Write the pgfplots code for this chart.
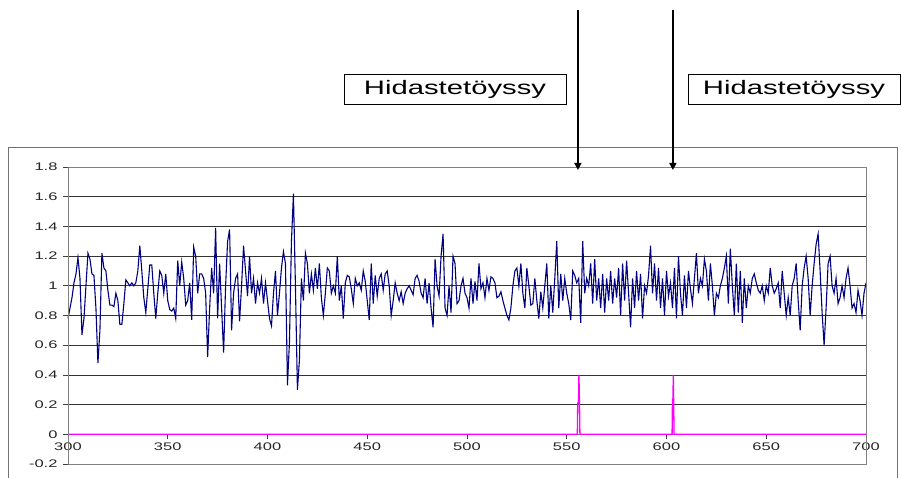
\documentclass[border=0pt]{standalone}
\usepackage{fontspec}
\setmainfont{Liberation Sans}[FakeStretch=1.5]
\usepackage{pgfplots}
\pgfplotsset{compat=1.18}
\usetikzlibrary{arrows.meta}
\definecolor{seriesnavy}{RGB}{0,0,128}
\definecolor{seriesmag}{RGB}{255,0,255}
\begin{document}
\begin{tikzpicture}[x=1pt,y=1pt]
\useasboundingbox (0,0) rectangle (902,477);
% chart frame (continues below the page edge)
\draw[black!55, line width=1pt] (8,-20) -- (8,329) -- (897,329) -- (897,-20);
\begin{axis}[
  at={(68pt,13pt)}, anchor=south west,
  scale only axis, width=798pt, height=297pt,
  xmin=300, xmax=700, ymin=-0.2, ymax=1.8,
  axis x line=middle, axis y line=left,
  axis line style={-, black!55, line width=0.8pt},
  hide obscured x ticks=false, hide obscured y ticks=false,
  xtick={300,350,400,450,500,550,600,650,700},
  xticklabels={300,350,400,450,500,550,600,650,700},
  ytick={-0.2,0,0.2,0.4,0.6,0.8,1,1.2,1.4,1.6,1.8},
  yticklabels={-0.2,0,0.2,0.4,0.6,0.8,1,1.2,1.4,1.6,1.8},
  tick align=outside, major tick length=5pt,
  tick style={black!75, line width=0.8pt},
  ymajorgrids, grid style={black!80, line width=0.8pt},
  /pgf/number format/assume math mode=true,
  ticklabel style={font=\fontsize{11}{13}\selectfont, text=black!85},
  yticklabel style={xshift=-2pt},
  clip=false,
]
% signal
\addplot[seriesnavy, line width=1.1pt] coordinates {
(300,0.78) (301,0.85) (302,0.92) (303,1.02) (304,1.08) (305,1.19) (306,1.05) (307,0.67) (308,0.78) (309,1.0)
(310,1.22) (311,1.18) (312,1.08) (313,1.07) (314,0.85) (315,0.48) (316,0.7) (317,1.22) (318,1.12) (319,1.1)
(320,0.97) (321,0.87) (322,0.87) (323,0.86) (324,0.95) (325,0.9) (326,0.74) (327,0.74) (328,0.88) (329,1.04)
(330,1.02) (331,1.0) (332,1.02) (333,1.0) (334,1.02) (335,1.1) (336,1.27) (337,1.1) (338,0.92) (339,0.82)
(340,0.98) (341,1.14) (342,1.14) (343,0.95) (344,0.78) (345,0.95) (346,1.1) (347,1.07) (348,0.95) (349,1.08)
(350,0.9) (351,0.84) (352,0.83) (353,0.85) (354,0.78) (355,1.17) (356,1.0) (357,1.16) (358,1.05) (359,0.87)
(360,0.9) (361,1.02) (362,0.77) (363,1.26) (364,1.2) (365,0.95) (366,1.08) (367,1.08) (368,1.05) (369,0.95)
(370,0.52) (371,0.85) (372,1.12) (373,0.95) (374,1.39) (375,0.78) (376,1.15) (377,0.85) (378,0.55) (379,1.0)
(380,1.3) (381,1.38) (382,0.7) (383,0.95) (384,1.05) (385,1.08) (386,0.76) (387,1.0) (388,1.27) (389,1.1)
(390,0.93) (391,1.2) (392,0.95) (393,1.05) (394,0.88) (395,1.02) (396,0.95) (397,1.05) (398,0.88) (399,1.02)
(400,0.9) (401,0.78) (402,0.73) (403,0.95) (404,1.1) (405,0.8) (406,0.95) (407,1.12) (408,1.23) (409,1.15)
(410,0.33) (411,0.62) (412,1.3) (413,1.62) (414,1.0) (415,0.3) (416,0.5) (417,1.05) (418,0.9) (419,1.22)
(420,1.15) (421,0.95) (422,1.08) (423,0.97) (424,1.12) (425,0.98) (426,1.15) (427,0.92) (428,0.8) (429,0.95)
(430,1.12) (431,1.1) (432,0.95) (433,1.0) (434,0.95) (435,1.2) (436,0.9) (437,1.0) (438,0.78) (439,1.02)
(440,1.07) (441,1.06) (442,0.98) (443,0.88) (444,1.05) (445,1.0) (446,1.02) (447,0.97) (448,1.1) (449,1.03)
(450,0.9) (451,0.77) (452,1.15) (453,0.88) (454,1.07) (455,0.93) (456,1.05) (457,1.08) (458,0.97) (459,1.08)
(460,1.1) (461,1.0) (462,0.8) (463,0.9) (464,1.02) (465,0.95) (466,0.9) (467,0.96) (468,0.88) (469,0.95)
(470,0.98) (471,1.0) (472,0.97) (473,0.94) (474,1.05) (475,1.07) (476,1.03) (477,0.95) (478,0.92) (479,1.05)
(480,0.88) (481,1.02) (482,0.85) (483,0.72) (484,1.18) (485,1.0) (486,0.93) (487,1.2) (488,1.35) (489,0.85)
(490,0.8) (491,1.0) (492,0.82) (493,1.2) (494,1.15) (495,0.88) (496,0.9) (497,1.0) (498,1.05) (499,0.95)
(500,0.92) (501,0.85) (502,1.05) (503,0.88) (504,1.03) (505,0.9) (506,1.15) (507,0.98) (508,1.02) (509,0.92)
(510,1.05) (511,0.97) (512,1.06) (513,1.05) (514,1.02) (515,0.92) (516,0.93) (517,0.96) (518,0.9) (519,0.85)
(520,0.8) (521,0.77) (522,0.85) (523,1.0) (524,1.1) (525,1.12) (526,1.0) (527,1.15) (528,0.95) (529,0.85)
(530,1.12) (531,1.0) (532,0.87) (533,0.88) (534,1.05) (535,0.9) (536,0.78) (537,0.96) (538,0.85) (539,1.0)
(540,1.15) (541,0.78) (542,1.0) (543,0.82) (544,1.05) (545,1.3) (546,0.85) (547,1.08) (548,0.9) (549,1.05)
(550,0.95) (551,0.88) (552,0.77) (553,1.1) (554,1.07) (555,1.02) (556,1.05) (557,0.75) (558,1.3) (559,0.95)
(560,1.05) (561,1.0) (562,1.15) (563,0.88) (564,1.18) (565,0.9) (566,1.05) (567,0.85) (568,1.08) (569,0.82)
(570,1.05) (571,0.9) (572,1.1) (573,0.88) (574,1.05) (575,0.92) (576,1.12) (577,0.8) (578,1.15) (579,0.9)
(580,1.17) (581,0.95) (582,0.72) (583,1.05) (584,0.85) (585,1.1) (586,0.9) (587,1.08) (588,0.78) (589,1.0)
(590,0.95) (591,1.07) (592,1.27) (593,0.95) (594,1.15) (595,0.9) (596,1.12) (597,0.85) (598,1.05) (599,0.8)
(600,1.1) (601,0.93) (602,1.02) (603,0.85) (604,1.12) (605,0.78) (606,1.2) (607,0.95) (608,0.8) (609,1.07)
(610,0.85) (611,1.1) (612,0.98) (613,0.88) (614,1.05) (615,1.22) (616,0.95) (617,1.05) (618,1.0) (619,1.18)
(620,1.1) (621,0.9) (622,1.15) (623,1.0) (624,0.8) (625,0.95) (626,0.92) (627,1.0) (628,1.05) (629,1.12)
(630,1.2) (631,0.88) (632,1.25) (633,1.0) (634,0.8) (635,1.15) (636,0.82) (637,1.1) (638,0.75) (639,1.05)
(640,0.85) (641,1.0) (642,0.95) (643,1.05) (644,1.08) (645,1.02) (646,0.97) (647,0.95) (648,1.0) (649,0.9)
(650,1.0) (651,0.95) (652,1.12) (653,1.0) (654,0.95) (655,0.98) (656,1.02) (657,0.85) (658,1.1) (659,0.95)
(660,0.8) (661,0.92) (662,0.8) (663,1.0) (664,1.05) (665,1.15) (666,0.9) (667,0.7) (668,1.0) (669,1.12)
(670,1.2) (671,1.05) (672,0.8) (673,1.0) (674,1.15) (675,1.28) (676,1.35) (677,1.1) (678,0.82) (679,0.6)
(680,0.85) (681,1.15) (682,1.2) (683,1.0) (684,0.95) (685,1.05) (686,0.88) (687,0.92) (688,1.0) (689,0.92)
(690,1.05) (691,1.12) (692,1.0) (693,0.85) (694,0.88) (695,0.82) (696,0.97) (697,0.9) (698,0.8) (699,0.95)
(700,1.02)
};
% bump indicator
\addplot[seriesmag, line width=1.3pt] coordinates {
(300,0) (555.3,0) (555.5,0.21) (555.9,0.21) (556.1,0.4) (556.4,0.2) (556.6,0)
(602.8,0) (603.0,0.24) (603.2,0.2) (603.4,0.4) (603.6,0.2) (603.8,0) (700,0)
};
% plot area frame
\draw[black!50, line width=0.8pt] (rel axis cs:0,0) rectangle (rel axis cs:1,1);
% arrows pointing at the two bumps
\draw[black, line width=1.6pt, -{Triangle[width=7pt,length=7pt]}] (axis cs:555.6,2.857) -- (axis cs:555.6,1.78);
\draw[black, line width=1.6pt, -{Triangle[width=7pt,length=7pt]}] (axis cs:603.2,2.857) -- (axis cs:603.2,1.78);
\end{axis}
\node[draw=black, line width=0.9pt, minimum width=222pt, minimum height=30pt, inner sep=0pt,
      font=\fontsize{19.5}{22}\selectfont] at (455,388) {Hidastetöyssy};
\node[draw=black, line width=0.9pt, minimum width=212pt, minimum height=30pt, inner sep=0pt,
      font=\fontsize{19.5}{22}\selectfont] at (794,388) {Hidastetöyssy};
\end{tikzpicture}
\end{document}
